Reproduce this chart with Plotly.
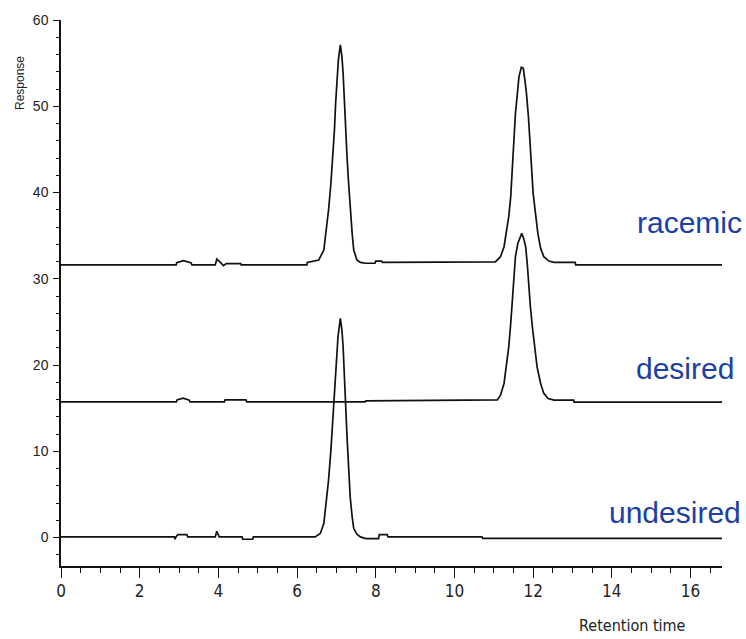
import plotly.graph_objects as go

# Retention time (min) and detector response for each chromatogram
racemic_t = [0.0, 2.93, 2.94, 3.11, 3.30, 3.33, 3.92, 3.96, 4.05, 4.13, 4.20, 4.57, 4.58,
             6.25, 6.26, 6.55, 6.68, 6.74, 6.80, 6.86, 6.91, 6.95, 6.98, 7.02, 7.05, 7.10,
             7.14, 7.17, 7.20, 7.24, 7.27, 7.31, 7.35, 7.40, 7.44, 7.52, 7.61, 7.74, 7.98,
             8.00, 8.15, 8.17, 11.04, 11.17, 11.26, 11.32, 11.38, 11.43, 11.47, 11.51, 11.55,
             11.60, 11.64, 11.70, 11.75, 11.79, 11.83, 11.88, 11.92, 11.96, 12.00, 12.06,
             12.12, 12.19, 12.27, 12.40, 12.53, 13.07, 13.08, 16.8]
racemic_r = [31.6, 31.6, 31.86, 32.09, 31.86, 31.6, 31.6, 32.29, 31.9, 31.52, 31.75, 31.75, 31.6,
             31.6, 31.9, 32.17, 33.33, 35.65, 37.97, 41.07, 44.15, 47.25, 50.34, 53.05, 55.37, 57.11,
             55.76, 53.82, 50.34, 47.25, 44.15, 41.07, 37.97, 35.27, 33.33, 32.17, 31.9, 31.8, 31.8,
             32.05, 32.05, 31.9, 31.97, 32.56, 33.72, 35.26, 37.2, 39.52, 42.61, 46.09, 49.18,
             51.5, 53.44, 54.52, 54.4, 53.05, 51.5, 48.8, 45.7, 42.61, 39.9, 37.58,
             35.26, 33.52, 32.56, 32.05, 31.9, 31.9, 31.6, 31.6]

desired_t = [0.0, 2.93, 2.95, 3.10, 3.25, 3.28, 4.15, 4.17, 4.70, 4.72, 7.73, 7.75,
             11.09, 11.17, 11.26, 11.32, 11.38, 11.43, 11.47, 11.51, 11.55, 11.61, 11.71,
             11.76, 11.81, 11.85, 11.89, 11.93, 11.98, 12.04, 12.10, 12.19, 12.27, 12.38,
             12.53, 13.03, 13.04, 16.8]
desired_r = [15.73, 15.73, 15.95, 16.15, 15.95, 15.73, 15.73, 15.95, 15.95, 15.73, 15.73, 15.85,
             15.95, 16.51, 17.86, 19.79, 22.11, 24.82, 27.53, 30.24, 32.56, 34.10, 35.26,
             34.68, 33.72, 31.78, 29.08, 26.76, 24.44, 22.11, 19.79, 17.86, 16.71, 16.12,
             15.93, 15.93, 15.70, 15.70]

undesired_t = [0.0, 2.88, 2.90, 2.92, 2.97, 3.20, 3.22, 3.92, 3.96, 4.02, 4.60, 4.62, 4.87, 4.89,
               6.46, 6.59, 6.68, 6.74, 6.80, 6.86, 6.91, 6.96, 7.00, 7.04, 7.10, 7.14, 7.17,
               7.20, 7.24, 7.27, 7.31, 7.35, 7.40, 7.44, 7.52, 7.61, 7.75, 8.07, 8.09, 8.29,
               8.31, 10.70, 10.72, 16.8]
undesired_r = [0.07, 0.07, -0.2, 0.07, 0.34, 0.34, 0.07, 0.07, 0.73, 0.07, 0.07, -0.2, -0.2, 0.07,
               0.07, 0.46, 1.62, 3.94, 6.65, 10.13, 13.99, 17.47, 20.57, 23.28, 25.40, 24.05, 22.12,
               18.63, 15.15, 11.67, 8.19, 4.71, 2.39, 1.04, 0.38, 0.07, -0.12, -0.12, 0.34, 0.34,
               0.07, 0.07, -0.1, -0.1]

trace_names = ["racemic", "desired", "undesired"]
label_y = [36.5, 19.6, 2.9]
label_x = [1.033, 1.021, 1.032]

x_ticks = [0, 2, 4, 6, 8, 10, 12, 14, 16]
y_ticks = [0, 10, 20, 30, 40, 50, 60]

fig = go.Figure()
for t, r, name in zip([racemic_t, desired_t, undesired_t],
                      [racemic_r, desired_r, undesired_r], trace_names):
    fig.add_trace(go.Scatter(x=t, y=r, mode="lines", name=name,
                             line=dict(color="#111111", width=1.7),
                             showlegend=False, hoverinfo="skip"))

label_color = "#1b3ea8"
for name, ly, lx in zip(trace_names, label_y, label_x):
    fig.add_annotation(text=name, xref="paper", yref="y", x=lx, y=ly,
                       xanchor="right", yanchor="middle", showarrow=False,
                       font=dict(family="Liberation Sans, Arial, sans-serif",
                                 size=30, color=label_color))

fig.add_annotation(text="Response", xref="paper", yref="y", x=-0.062, y=52.7,
                   textangle=-90, showarrow=False, xanchor="center", yanchor="middle",
                   font=dict(family="Liberation Sans, Arial, sans-serif", size=12, color="#222222"))
fig.add_annotation(text="Retention time", xref="x", yref="paper", x=14.52, y=-0.109,
                   showarrow=False, xanchor="center", yanchor="middle",
                   font=dict(family="Liberation Sans Narrow, Arial Narrow, DejaVu Sans Condensed, sans-serif",
                             size=16, color="#222222"))

fig.update_xaxes(range=[0, 16.8], tickvals=x_ticks, showgrid=False, zeroline=False,
                 showline=True, linecolor="#111111", linewidth=1.5,
                 ticks="outside", ticklen=10, tickwidth=1.3, tickcolor="#111111",
                 minor=dict(dtick=0.5, tick0=0, ticks="outside", ticklen=5,
                            tickwidth=1.2, tickcolor="#111111", showgrid=False),
                 tickfont=dict(family="Liberation Sans Narrow, Arial Narrow, DejaVu Sans Condensed, sans-serif",
                               size=17, color="#222222"),
                 ticklabelstandoff=-1)
fig.update_yaxes(range=[-3.3, 60], tickvals=y_ticks, showgrid=False, zeroline=False,
                 showline=True, linecolor="#111111", linewidth=1.5,
                 ticks="outside", ticklen=6, tickwidth=1.3, tickcolor="#111111",
                 minor=dict(dtick=2, tick0=0, ticks="outside", ticklen=3,
                            tickwidth=1.2, tickcolor="#111111", showgrid=False),
                 tickfont=dict(family="Liberation Sans, Arial, sans-serif",
                               size=14, color="#222222"),
                 ticklabelstandoff=2)

fig.update_layout(width=746, height=639,
                  margin=dict(l=61, r=24, t=20, b=73),
                  paper_bgcolor="white", plot_bgcolor="white")

fig.write_html("out.html")
